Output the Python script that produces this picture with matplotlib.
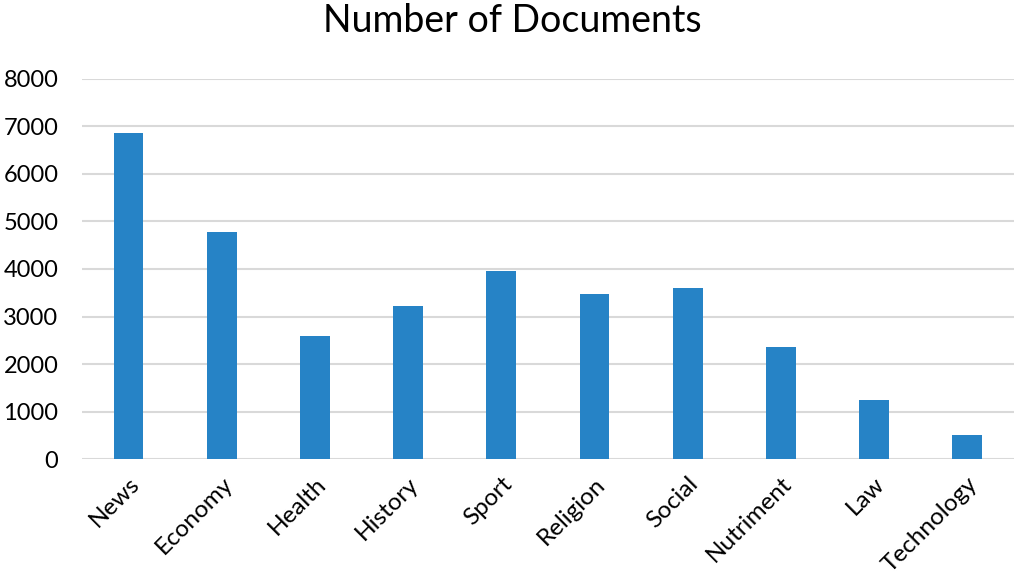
import matplotlib.pyplot as plt

categories = ["News", "Economy", "Health", "History", "Sport", "Religion",
              "Social", "Nutriment", "Law", "Technology"]
documents = [6850, 4770, 2590, 3230, 3950, 3470, 3600, 2370, 1240, 520]
yticks = [0, 1000, 2000, 3000, 4000, 5000, 6000, 7000, 8000]

plt.rcParams['font.family'] = ['Lato', 'DejaVu Sans']

fig = plt.figure(figsize=(10.24, 5.86), dpi=100)
ax = fig.add_axes([0.080, 0.216, 0.910, 0.650])

ax.bar(range(len(categories)), documents, width=0.32, color='#2683c6', zorder=3)

ax.set_ylim(0, 8000)
ax.set_xlim(-0.5, len(categories) - 0.5)
ax.set_yticks(yticks)
ax.yaxis.grid(True, color='#d9d9d9', linewidth=1.5, zorder=0)
ax.set_xticks(range(len(categories)))
ax.set_xticklabels(categories, rotation=45, ha='right', rotation_mode='anchor', fontsize=17.5)
ax.tick_params(axis='y', labelsize=17, length=0, pad=17)
ax.tick_params(axis='x', length=0, pad=10)
for s in ax.spines.values():
    s.set_visible(False)

fig.suptitle("Number of Documents", fontsize=27, y=0.995)

fig.savefig("out.png", dpi=100)
